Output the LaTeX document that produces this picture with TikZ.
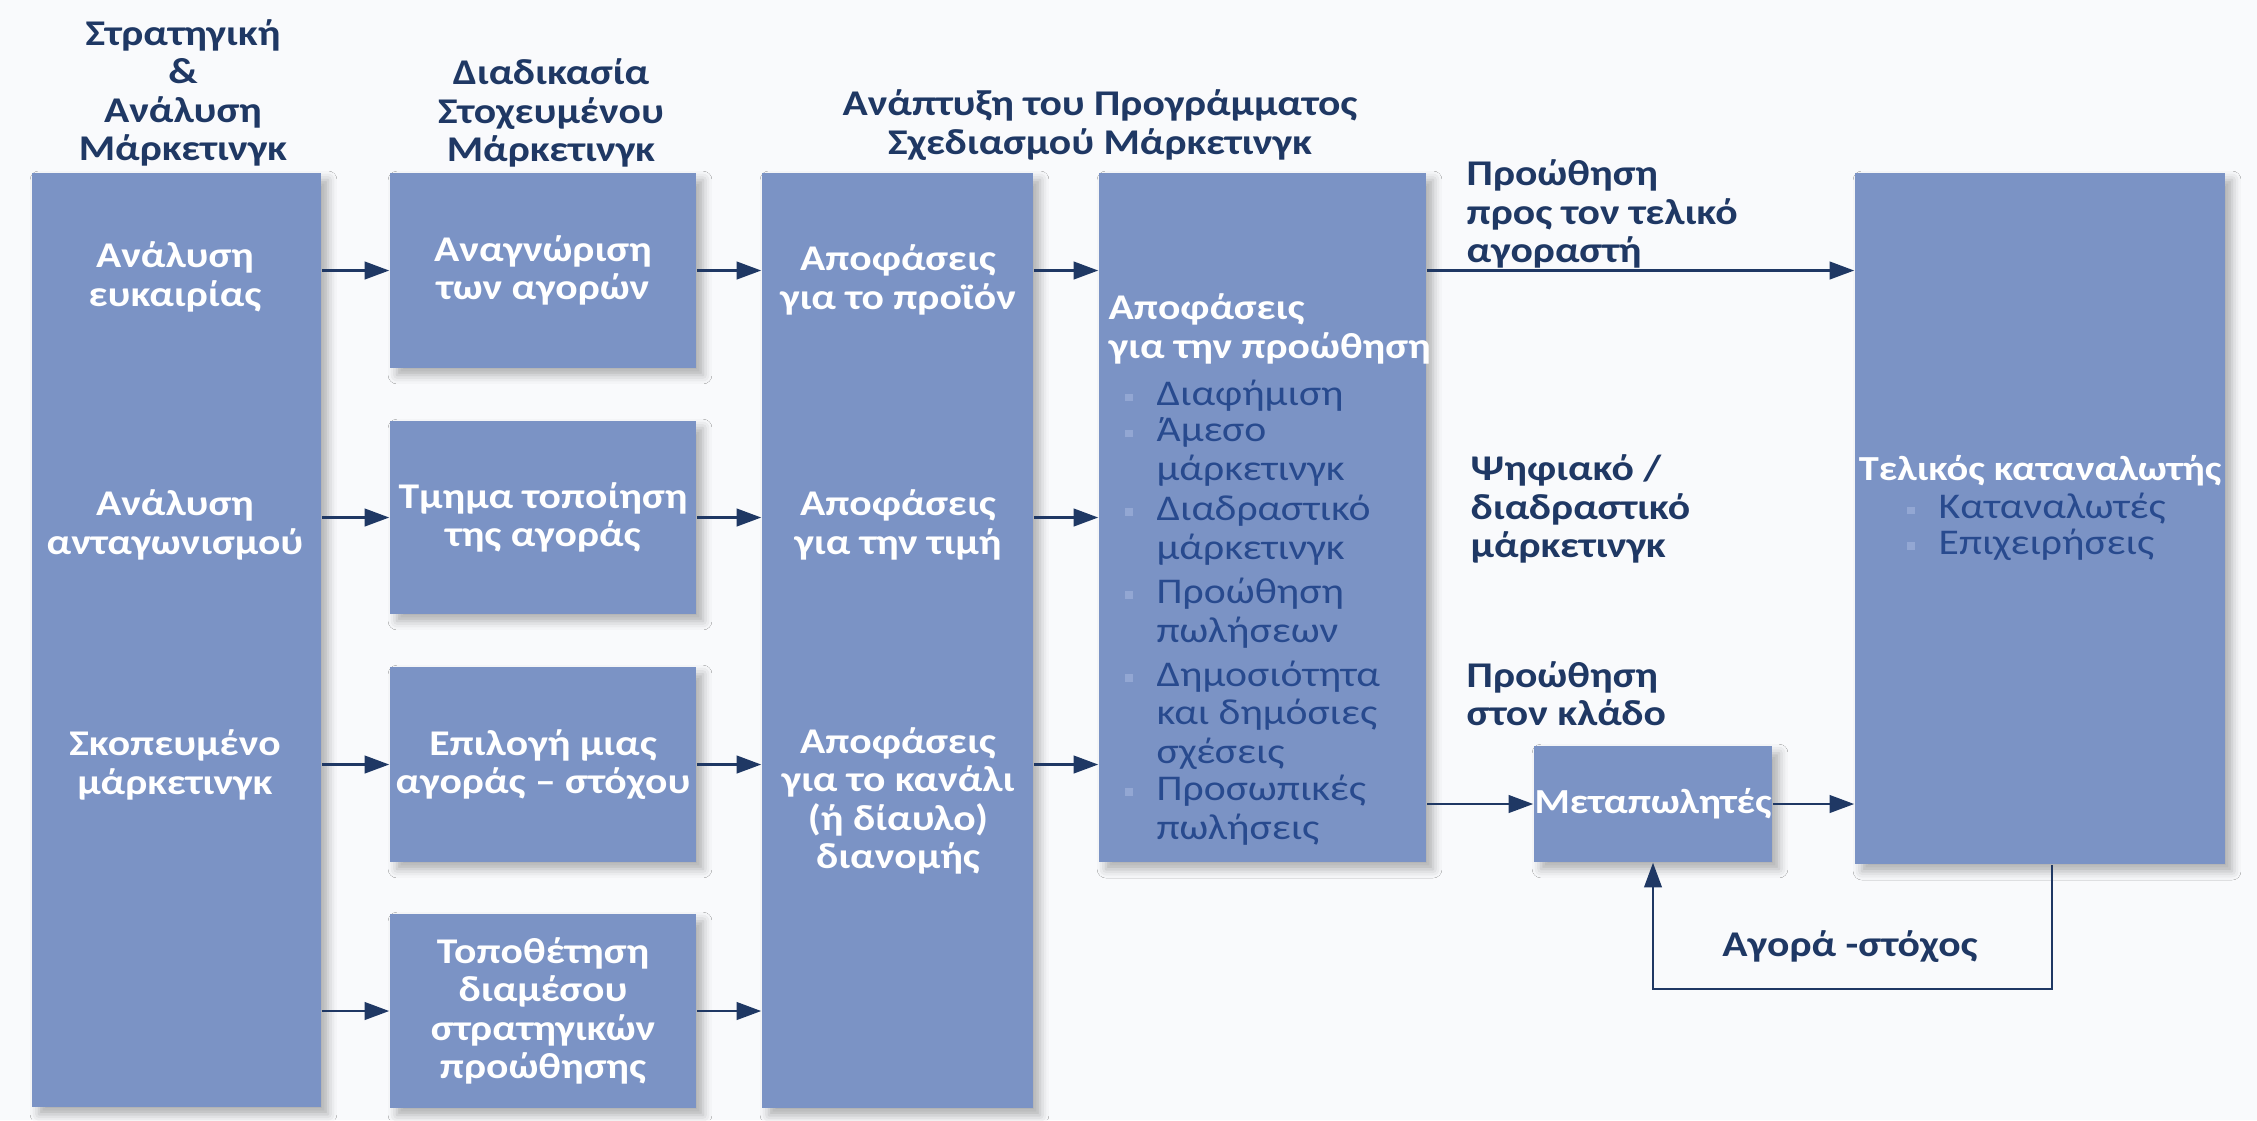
\documentclass[tikz,border=0pt]{standalone}
\usepackage{fontspec}
\setmainfont{Carlito}[FakeStretch=1.15]
\usepackage{tikz}
\usetikzlibrary{arrows.meta, positioning, shadows.blur}

\definecolor{boxblue}{HTML}{7B93C5}
\definecolor{navy}{HTML}{1F3864}
\definecolor{itemblue}{HTML}{284A8E}
\definecolor{dotblue}{HTML}{93A7D3}
\definecolor{bgwhite}{HTML}{F9FAFC}

\newcommand{\diagfont}{\fontsize{10.3}{10.9}\selectfont}
\newcommand{\bul}{\llap{\textcolor{dotblue}{\rule[1.3pt]{2.2pt}{2.2pt}}\hspace{6.8pt}}}

\begin{document}
\begin{tikzpicture}[x=0.01cm, y=-0.01cm,
    panel/.style={fill=boxblue, inner sep=0pt, blur shadow={shadow xshift=2pt, shadow yshift=-2pt, shadow blur radius=2.5pt, shadow opacity=30}},
    wtext/.style={text=white, font=\bfseries\diagfont, align=center, inner sep=0pt},
    head/.style={text=navy, font=\bfseries\diagfont, align=center, inner sep=0pt},
    lbl/.style={text=navy, font=\bfseries\diagfont, align=left, inner sep=0pt, anchor=west},
    item/.style={text=itemblue, font=\diagfont, align=left, inner sep=0pt, anchor=west},
    arr/.style={draw=navy, line width=0.7pt, -{Triangle[length=7pt,width=5pt]}}]

\fill[bgwhite] (0,0) rectangle (2257,1120);
\useasboundingbox (0,0) rectangle (2257,1120);

% column titles
\node[head] (t-strat) at (183,93) {Στρατηγική\\\&\\Ανάλυση\\Μάρκετινγκ};
\node[head] (t-target) at (551,113) {Διαδικασία\\Στοχευμένου\\Μάρκετινγκ};
\node[head] (t-prog) at (1100,125) {Ανάπτυξη του Προγράμματος\\Σχεδιασμού Μάρκετινγκ};

% boxes
\node[panel, minimum width=2.89cm, minimum height=9.34cm] (strat) at (176.5,640) {};
\node[panel, wtext, minimum width=3.06cm, minimum height=1.95cm] (ident) at (543,270.5) {Αναγνώριση\\των αγορών};
\node[panel, wtext, minimum width=3.06cm, minimum height=1.93cm] (segm) at (543,517.5) {Τμημα τοποίηση\\της αγοράς};
\node[panel, wtext, minimum width=3.06cm, minimum height=1.95cm] (targ) at (543,764.5) {Επιλογή μιας\\αγοράς -- στόχου};
\node[panel, wtext, minimum width=3.06cm, minimum height=1.94cm] (posit) at (543,1011) {Τοποθέτηση\\διαμέσου\\στρατηγικών\\προώθησης};
\node[panel, minimum width=2.71cm, minimum height=9.35cm] (prog) at (897.5,640.5) {};
\node[panel, minimum width=3.27cm, minimum height=6.89cm] (promo) at (1262.5,517.5) {};
\node[panel, minimum width=3.70cm, minimum height=6.91cm] (cons) at (2040,518.5) {};
\node[panel, wtext, font=\bfseries\fontsize{10}{11}\selectfont, minimum width=2.38cm, minimum height=1.16cm] (resell) at (1653,804) {Μεταπωλητές};

% texts inside the tall boxes
\node[wtext] (l-opp) at (175,277) {Ανάλυση\\ευκαιρίας};
\node[wtext] (l-comp) at (175,525) {Ανάλυση\\ανταγωνισμού};
\node[wtext] (l-aim) at (175,765) {Σκοπευμένο\\μάρκετινγκ};
\node[wtext] (l-prod) at (898,280) {Αποφάσεις\\για το προϊόν};
\node[wtext] (l-price) at (898,525) {Αποφάσεις\\για την τιμή};
\node[wtext] (l-chan) at (898,801) {Αποφάσεις\\για το κανάλι\\(ή δίαυλο)\\διανομής};
\node[wtext, align=left, anchor=west] (l-promo) at (1108,329) {Αποφάσεις\\για την προώθηση};
\node[item] (i-adv) at (1156,396) {\bul Διαφήμιση};
\node[item] (i-direct) at (1156,452) {\bul Άμεσο\\μάρκετινγκ};
\node[item] (i-inter) at (1156,530) {\bul Διαδραστικό\\μάρκετινγκ};
\node[item] (i-sales) at (1156,613) {\bul Προώθηση\\πωλήσεων};
\node[item] (i-pr) at (1156,715) {\bul Δημοσιότητα\\και δημόσιες\\σχέσεις};
\node[item] (i-pers) at (1156,810) {\bul Προσωπικές\\πωλήσεις};
\node[wtext, font=\bfseries\fontsize{10}{11}\selectfont] (l-final) at (2040,471) {Τελικός καταναλωτής};
\node[item] (i-cons) at (1938,509) {\bul Καταναλωτές};
\node[item] (i-bus) at (1938,545) {\bul Επιχειρήσεις};

% labels on the right
\node[lbl] (l-end) at (1466,214) {Προώθηση\\προς τον τελικό\\αγοραστή};
\node[lbl] (l-digital) at (1470,509) {Ψηφιακό /\\διαδραστικό\\μάρκετινγκ};
\node[lbl] (l-trade) at (1466,694) {Προώθηση\\στον κλάδο};
\node[head] (l-market) at (1850,947) {Αγορά -στόχος};

% arrows
\draw[arr] (strat.east |- ident) -- (ident.west);
\draw[arr] (strat.east |- segm) -- (segm.west);
\draw[arr] (strat.east |- targ) -- (targ.west);
\draw[arr] (strat.east |- posit) -- (posit.west);

\draw[arr] (ident.east) -- (prog.west |- ident);
\draw[arr] (segm.east) -- (prog.west |- segm);
\draw[arr] (targ.east) -- (prog.west |- targ);
\draw[arr] (posit.east) -- (prog.west |- posit);

\draw[arr] (prog.east |- ident) -- (promo.west |- ident);
\draw[arr] (prog.east |- segm) -- (promo.west |- segm);
\draw[arr] (prog.east |- targ) -- (promo.west |- targ);

\draw[arr] (promo.east |- ident) -- (cons.west |- ident);
\draw[arr] (promo.east |- resell) -- (resell.west);
\draw[arr] (resell.east) -- (cons.west |- resell);

\coordinate (turn) at (2052,989);
\draw[arr, line width=0.6pt] (cons.south -| turn) -- (turn) -| (resell.south);
\end{tikzpicture}
\end{document}
